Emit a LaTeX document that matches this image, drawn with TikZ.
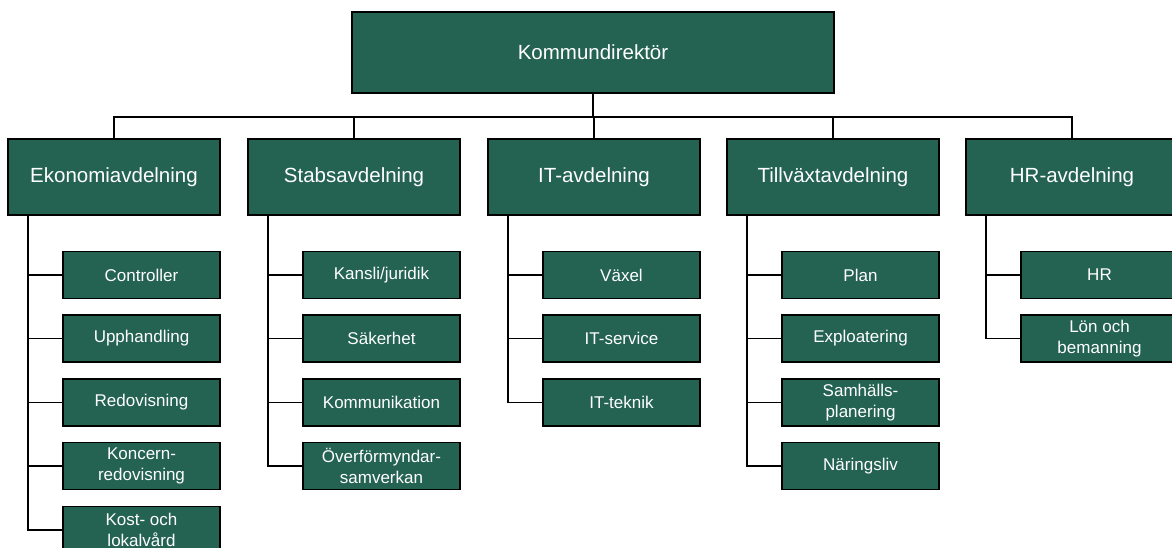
\documentclass[tikz,border=0pt]{standalone}
\usepackage{fontspec}
\setmainfont{Liberation Sans}
\usepackage{tikz}
\usetikzlibrary{calc,positioning}
\definecolor{kgreen}{RGB}{36,99,81}

\begin{document}
\begin{tikzpicture}[
    x=1pt, y=-1pt,
    % --- 定義節點樣式 ---
    % 共同的方框樣式
    box/.style={
        rectangle,
        draw=black,
        line width=1.4pt,
        fill=kgreen,
        text=white,
        inner sep=0pt,
        align=center
    },
    % 最上層
    topbox/.style={box, minimum width=482pt, minimum height=81pt,
        font=\fontsize{20.5}{24}\selectfont},
    % 部門
    deptbox/.style={box, minimum width=212pt, minimum height=76pt,
        font=\fontsize{20.5}{24}\selectfont},
    % 單位
    unitbox/.style={box, minimum width=157pt, minimum height=47pt,
        font=\fontsize{17}{20.5}\selectfont},
    % 線條
    conn/.style={draw=black, line width=1.8pt}
]
\useasboundingbox (0,0) rectangle (1172,547);

% --- 最上層 ---
\node[topbox] (kd) at (593,52.5) {Kommundirektör};
\coordinate (bus) at (593,117);

% --- 部門 ---
\node[deptbox] (eko)   at (114,177)    {Ekonomiavdelning};
\node[deptbox] (stab)  at (354,177)    {Stabsavdelning};
\node[deptbox] (it)    at (594,177)    {IT-avdelning};
\node[deptbox] (tillv) at (833,177)    {Tillväxtavdelning};
\node[deptbox] (hr)    at (1072,177)   {HR-avdelning};

% --- 單位 ---
\node[unitbox] (eko1) at (141.5,275)   {Controller};
\node[unitbox] (eko2) at (141.5,338.5) {Upphandling};
\node[unitbox] (eko3) at (141.5,402.5) {Redovisning};
\node[unitbox] (eko4) at (141.5,466)   {Koncern-\\redovisning};
\node[unitbox] (eko5) at (141.5,530)   {Kost- och\\lokalvård};

\node[unitbox] (stab1) at (381.5,275)   {Kansli/juridik};
\node[unitbox] (stab2) at (381.5,338.5) {Säkerhet};
\node[unitbox] (stab3) at (381.5,402.5) {Kommunikation};
\node[unitbox] (stab4) at (381.5,466)   {Överförmyndar-\\samverkan};

\node[unitbox] (it1) at (621.5,275)   {Växel};
\node[unitbox] (it2) at (621.5,338.5) {IT-service};
\node[unitbox] (it3) at (621.5,402.5) {IT-teknik};

\node[unitbox] (tillv1) at (860.5,275)   {Plan};
\node[unitbox] (tillv2) at (860.5,338.5) {Exploatering};
\node[unitbox] (tillv3) at (860.5,402.5) {Samhälls-\\planering};
\node[unitbox] (tillv4) at (860.5,466)   {Näringsliv};

\node[unitbox] (hr1) at (1099.5,275)   {HR};
\node[unitbox] (hr2) at (1099.5,338.5) {Lön och\\bemanning};

% --- 繪製線條 ---
\draw[conn] (kd.south) -- (bus);
\draw[conn] (eko.north) |- (bus) -| (hr.north);
\draw[conn] (stab.north) -- (stab.north |- bus);
\draw[conn] (it.north) -- (it.north |- bus);
\draw[conn] (tillv.north) -- (tillv.north |- bus);

% 部門到單位
\foreach \d/\n in {eko/5, stab/4, it/3, tillv/4, hr/2} {
    \coordinate (\d trunk) at ([xshift=21pt]\d.south west);
    \foreach \i in {1,...,\n}
        \draw[conn] (\d trunk) |- (\d\i.west);
}

\end{tikzpicture}
\end{document}
